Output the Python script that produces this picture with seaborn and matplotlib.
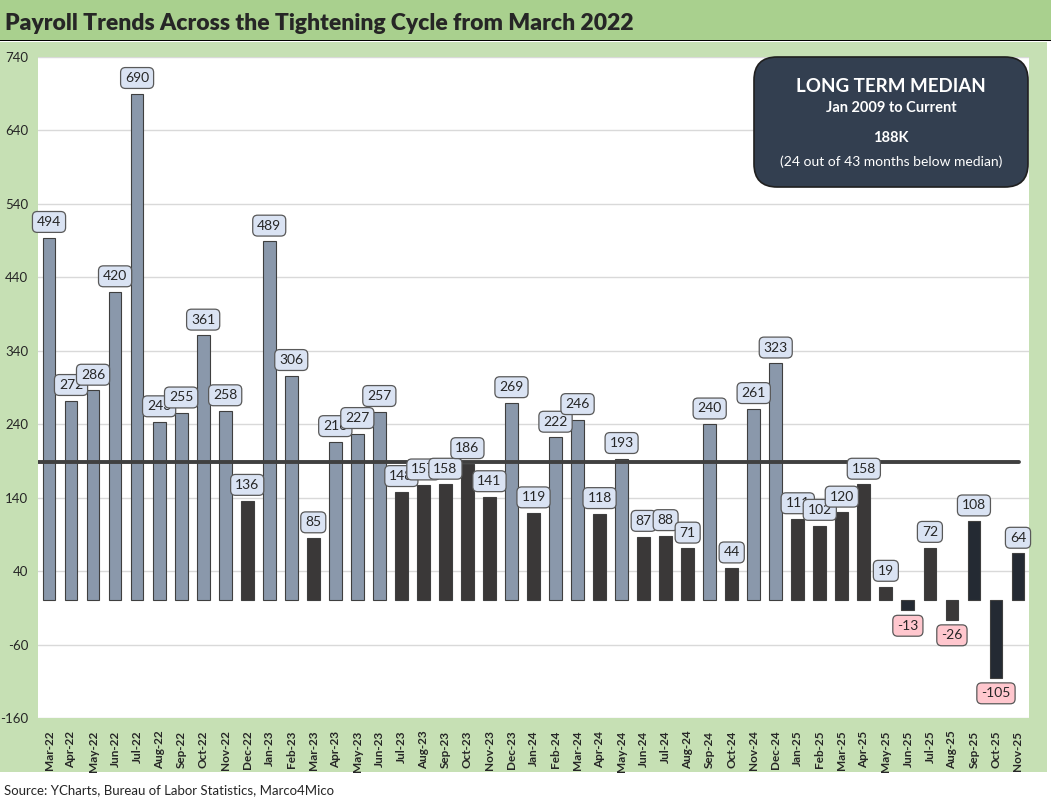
import matplotlib
matplotlib.use("Agg")
import matplotlib.pyplot as plt
from matplotlib.patches import Rectangle, FancyBboxPatch
import seaborn as sns
import pandas as pd

# monthly payroll change (thousands), Mar-22 to Nov-25
months = ["Mar-22", "Apr-22", "May-22", "Jun-22", "Jul-22", "Aug-22", "Sep-22", "Oct-22",
          "Nov-22", "Dec-22", "Jan-23", "Feb-23", "Mar-23", "Apr-23", "May-23", "Jun-23",
          "Jul-23", "Aug-23", "Sep-23", "Oct-23", "Nov-23", "Dec-23", "Jan-24", "Feb-24",
          "Mar-24", "Apr-24", "May-24", "Jun-24", "Jul-24", "Aug-24", "Sep-24", "Oct-24",
          "Nov-24", "Dec-24", "Jan-25", "Feb-25", "Mar-25", "Apr-25", "May-25", "Jun-25",
          "Jul-25", "Aug-25", "Sep-25", "Oct-25", "Nov-25"]
payrolls = [494, 272, 286, 420, 690, 243, 255, 361, 258, 136, 489, 306, 85, 216, 227, 257,
            148, 157, 158, 186, 141, 269, 119, 222, 246, 118, 193, 87, 88, 71, 240, 44,
            261, 323, 111, 102, 120, 158, 19, -13, 72, -26, 108, -105, 64]
latest_months = ["Jun-25", "Sep-25", "Oct-25", "Nov-25"]
median = 188
y_ticks = list(range(-160, 741, 100))

title = "Payroll Trends Across the Tightening Cycle from March 2022"
source = "Source: YCharts, Bureau of Labor Statistics, Marco4Mico"

groups = []
for m, v in zip(months, payrolls):
    if m in latest_months:
        groups.append("latest")
    elif v >= median:
        groups.append("above")
    else:
        groups.append("below")
df = pd.DataFrame({"month": months, "value": payrolls, "group": groups})

sns.set_style("white")
plt.rcParams["font.family"] = ["Lato", "DejaVu Sans"]
plt.rcParams["axes.unicode_minus"] = False

W, H = 1051, 805
fig = plt.figure(figsize=(W / 100, H / 100), dpi=100)
fig.patch.set_facecolor("white")

# header band and chart background
fig.add_artist(Rectangle((0, 1 - 40 / H), 1, 40 / H, transform=fig.transFigure,
                         facecolor="#A9D08E", edgecolor="none", zorder=0))
fig.add_artist(Rectangle((0, 1 - 41.5 / H), 1, 1.5 / H, transform=fig.transFigure,
                         facecolor="black", edgecolor="none", zorder=1))
fig.add_artist(Rectangle((0, 1 - 772 / H), 1047 / W, (772 - 42) / H, transform=fig.transFigure,
                         facecolor="#C6E0B4", edgecolor="none", zorder=0))
fig.text(5 / W, 1 - 24 / H, title, fontsize=16.5, fontweight="heavy", va="center", ha="left")
fig.text(4 / W, 1 - 790 / H, source, fontsize=9.5, va="center", ha="left")

ax = fig.add_axes([38 / W, 1 - 718 / H, (1029 - 38) / W, (718 - 57) / H])
ax.set_facecolor("white")

palette = {"above": "#8497B0", "below": "#3A3838", "latest": "#222A35"}
sns.barplot(data=df, x="month", y="value", hue="group", palette=palette, dodge=False,
            width=0.58, legend=False, edgecolor="#3F3F3F", linewidth=0.8, ax=ax, zorder=3)

ax.axhline(median, xmin=0, xmax=0.99, color="#404040", lw=2.8, zorder=4)

for i, v in enumerate(payrolls):
    if v >= 0:
        ax.annotate(str(v), (i, v), xytext=(0, 7), textcoords="offset points",
                    ha="center", va="bottom", fontsize=10, zorder=6,
                    bbox=dict(boxstyle="round,pad=0.32,rounding_size=0.35",
                              fc="#DAE3F3", ec="#595959", lw=0.9))
    else:
        ax.annotate(str(v), (i, v), xytext=(0, -7), textcoords="offset points",
                    ha="center", va="top", fontsize=10, zorder=6,
                    bbox=dict(boxstyle="round,pad=0.32,rounding_size=0.35",
                              fc="#FFC7CE", ec="#595959", lw=0.9))

ax.set_ylim(-160, 740)
ax.set_xlim(-0.5, len(months) - 0.5)
ax.set_yticks(y_ticks)
ax.yaxis.grid(True, color="#D9D9D9", lw=1)
ax.set_axisbelow(True)
for s in ax.spines.values():
    s.set_visible(False)
ax.set_xlabel("")
ax.set_ylabel("")
ax.tick_params(axis="y", length=0, pad=7, labelsize=9.5)
ax.tick_params(axis="x", length=0, pad=9, labelsize=8.5, rotation=90)
for lbl in ax.get_xticklabels():
    lbl.set_fontweight("bold")

# long term median box
bx, by, bw, bh = 754 / W, 1 - 187 / H, 274 / W, 130 / H
fig.add_artist(FancyBboxPatch((bx, by), bw, bh, transform=fig.transFigure,
                              boxstyle="round,pad=0,rounding_size=0.022",
                              mutation_aspect=W / H, fc="#333F50", ec="#1F1F1F",
                              lw=1.2, zorder=10))
cx = 891 / W
fig.text(cx, 1 - 87 / H, "LONG TERM MEDIAN", color="white", fontsize=13.5, fontweight="bold",
         ha="center", va="center", zorder=11)
fig.text(cx, 1 - 108 / H, "Jan 2009 to Current", color="white", fontsize=10.5,
         fontweight="bold", ha="center", va="center", zorder=11)
fig.text(cx, 1 - 138 / H, "188K", color="white", fontsize=10.5, fontweight="bold",
         ha="center", va="center", zorder=11)
fig.text(cx, 1 - 162 / H, "(24 out of 43 months below median)", color="white", fontsize=10,
         ha="center", va="center", zorder=11)

fig.savefig("out.png", dpi=100, facecolor=fig.get_facecolor())
